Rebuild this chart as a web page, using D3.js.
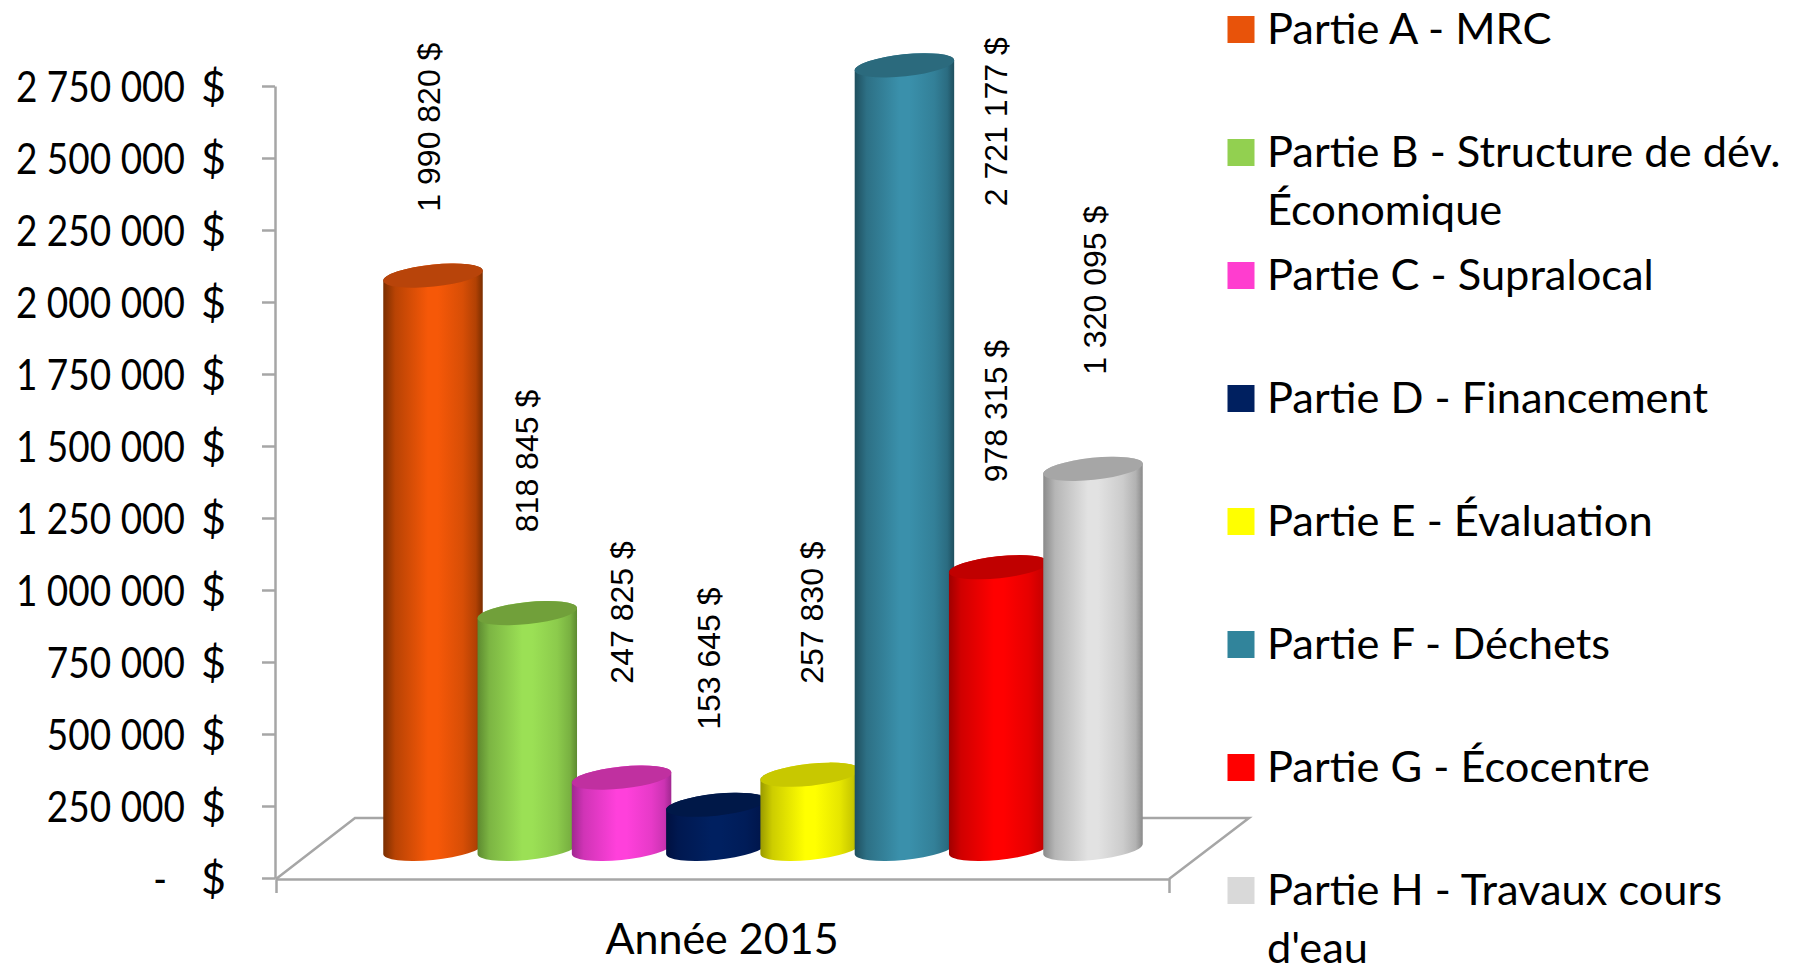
<!DOCTYPE html>
<html>
<head>
<meta charset="utf-8">
<script src="https://cdn.jsdelivr.net/npm/d3@7"></script>
<style>
  html, body { margin: 0; padding: 0; background: #fff; }
  svg { display: block; }
</style>
</head>
<body>
<svg id="chart"></svg>
<script>
(() => {

  const categories = ['Partie A - MRC', 'Partie B - Structure de dév.\nÉconomique', 'Partie C - Supralocal', 'Partie D - Financement', 'Partie E - Évaluation', 'Partie F - Déchets', 'Partie G - Écocentre', "Partie H - Travaux cours\nd'eau"];
  const values = [1990820, 818845, 247825, 153645, 257830, 2721177, 978315, 1320095];
  const colors = ['#F65808', '#9BE055', '#FF40DB', '#002060', '#FFFF00', '#3A90AB', '#FF0000', '#E2E2E2'];
  const legendColors = ['#E8530A', '#92D050', '#FF3DCF', '#002060', '#FFFF00', '#31849B', '#FF0000', '#D9D9D9'];
  const topColors = ['#B8440A', '#71A03A', '#C030A0', '#001848', '#C8C800', '#2B6A7D', '#C00000', '#A6A6A6'];
  const edgeColors = ['#7A2E00', '#5D8A30', '#A02890', '#001040', '#9A9A00', '#1F4F5E', '#A00000', '#8A8A8A'];
  const yTicks = [0, 250000, 500000, 750000, 1000000, 1250000, 1500000, 1750000, 2000000, 2250000, 2500000, 2750000];
  const xLabel = 'Année 2015';

  // label placement relative to the top of each column
  const labelDx = [7, 11, 11.5, 4, 12.5, 102.6, 8.3, 13];
  const labelDy = [64, 81, 94, 75, 91, -141, 85, 94];

  const svgWidth = 1811;
  const svgHeight = 964;
  const axisColor = '#A6A6A6';
  const bodyFont = 'Lato, sans-serif';
  const labelFont = '"Liberation Sans", Arial, sans-serif';

  const svg = d3.select('#chart')
    .attr('width', svgWidth)
    .attr('height', svgHeight);

  const locale = d3.formatLocale({ thousands: ' ', grouping: [3], decimal: ',', currency: ['', ' $'] });
  const fmt = locale.format(',d');

  const xScale = d3.scalePoint()
    .domain(categories)
    .range([433, 1093]);

  const yScale = d3.scaleLinear()
    .domain([0, 2750000])
    .range([878, 86]);

  // floor of the 3d box
  const floor = d3.line();
  svg.append('path')
    .attr('d', floor([[276, 879], [355, 818], [1249, 818], [1169, 879]]))
    .attr('fill', 'none')
    .attr('stroke', axisColor)
    .attr('stroke-width', 2.5);

  // y axis
  const yAxis = svg.append('g')
    .attr('transform', 'translate(275, 0)')
    .call(d3.axisLeft(yScale)
      .tickValues(yTicks)
      .tickSizeInner(13)
      .tickSizeOuter(0)
      .tickPadding(77)
      .tickFormat(d => d === 0 ? '-' : fmt(d)));

  yAxis.selectAll('path, line')
    .attr('stroke', axisColor)
    .attr('stroke-width', 2.5);

  // Lato runs wider than the reference face, squeeze the numbers a bit
  yAxis.selectAll('.tick text')
    .attr('font-family', bodyFont)
    .attr('font-size', 43)
    .attr('fill', '#000')
    .attr('x', 0)
    .attr('dy', '0.36em')
    .attr('transform', d => `translate(${d === 0 ? -108 : -90}, 0) scale(0.86, 1)`);

  yAxis.selectAll('.tick')
    .append('text')
    .attr('x', -49)
    .attr('dy', '0.36em')
    .attr('text-anchor', 'end')
    .attr('font-family', bodyFont)
    .attr('font-size', 43)
    .attr('fill', '#000')
    .text('$');

  // x axis, no category ticks only the two outer ones
  const xAxis = svg.append('g')
    .attr('transform', 'translate(0, 879)')
    .call(d3.axisBottom(d3.scaleLinear().domain([0, 1]).range([276, 1169]))
      .tickValues([])
      .tickSizeOuter(14));

  xAxis.select('path')
    .attr('fill', 'none')
    .attr('stroke', axisColor)
    .attr('stroke-width', 2.5);

  svg.append('text')
    .attr('x', 722)
    .attr('y', 954)
    .attr('text-anchor', 'middle')
    .attr('font-family', bodyFont)
    .attr('font-size', 43)
    .attr('fill', '#000')
    .text(xLabel);

  // column gradients
  const defs = svg.append('defs');
  values.forEach((v, i) => {
    const grad = defs.append('linearGradient')
      .attr('id', `side${i}`)
      .attr('x1', '0%').attr('x2', '100%')
      .attr('y1', '0%').attr('y2', '0%');
    const mid = d3.interpolateRgb(edgeColors[i], colors[i]);
    [[0, 0], [0.12, 0.5], [0.45, 1], [0.55, 1], [0.8, 0.75], [0.93, 0.45], [1, 0]].forEach(s => {
      grad.append('stop')
        .attr('offset', s[0])
        .attr('stop-color', mid(s[1]));
    });
  });

  // tilted ellipse used for the ends of each cylinder
  const rx = 50;
  const ry = 11;
  const tilt = -6;
  const rad = tilt * Math.PI / 180;
  const halfW = Math.sqrt(rx * rx * Math.cos(rad) ** 2 + ry * ry * Math.sin(rad) ** 2);
  const tangent = (rx * rx - ry * ry) * Math.sin(-rad) * Math.cos(rad) / halfW;
  const depth = 29;

  const columns = svg.append('g')
    .selectAll('g')
    .data(values)
    .enter()
    .append('g');

  columns.append('path')
    .attr('fill', (d, i) => `url(#side${i})`)
    .attr('d', (d, i) => {
      const cx = xScale(categories[i]);
      const top = yScale(d) - depth;
      const base = yScale(0) - depth;
      return `M${cx - halfW},${top + tangent} L${cx - halfW},${base + tangent}`
        + ` A${rx},${ry} ${tilt} 0 0 ${cx + halfW},${base - tangent}`
        + ` L${cx + halfW},${top - tangent}`
        + ` A${rx},${ry} ${tilt} 0 0 ${cx - halfW},${top + tangent} Z`;
    });

  columns.append('ellipse')
    .attr('rx', rx)
    .attr('ry', ry)
    .attr('fill', (d, i) => topColors[i])
    .attr('transform', (d, i) => `translate(${xScale(categories[i])}, ${yScale(d) - depth}) rotate(${tilt})`);

  // value labels
  svg.append('g')
    .selectAll('text')
    .data(values)
    .enter()
    .append('text')
    .attr('transform', (d, i) => `translate(${xScale(categories[i]) + labelDx[i]}, ${yScale(d) - depth - labelDy[i]}) rotate(-90)`)
    .attr('font-family', labelFont)
    .attr('font-size', 32)
    .attr('fill', '#000')
    .text(d => `${fmt(d)} $`);

  // legend
  const legendY = d3.scaleBand()
    .domain(categories)
    .range([0, 984]);

  const legend = svg.append('g')
    .selectAll('g')
    .data(categories)
    .enter()
    .append('g')
    .attr('transform', d => `translate(1227.5, ${16 + legendY(d)})`);

  legend.append('rect')
    .attr('width', 27)
    .attr('height', 27)
    .attr('fill', (d, i) => legendColors[i]);

  legend.append('text')
    .attr('font-family', bodyFont)
    .attr('font-size', 43.4)
    .attr('fill', '#000')
    .selectAll('tspan')
    .data(d => d.split('\n'))
    .enter()
    .append('tspan')
    .attr('x', 39.5)
    .attr('y', (d, i) => 27.5 + i * 58)
    .text(d => d);

})();
</script>
</body>
</html>
